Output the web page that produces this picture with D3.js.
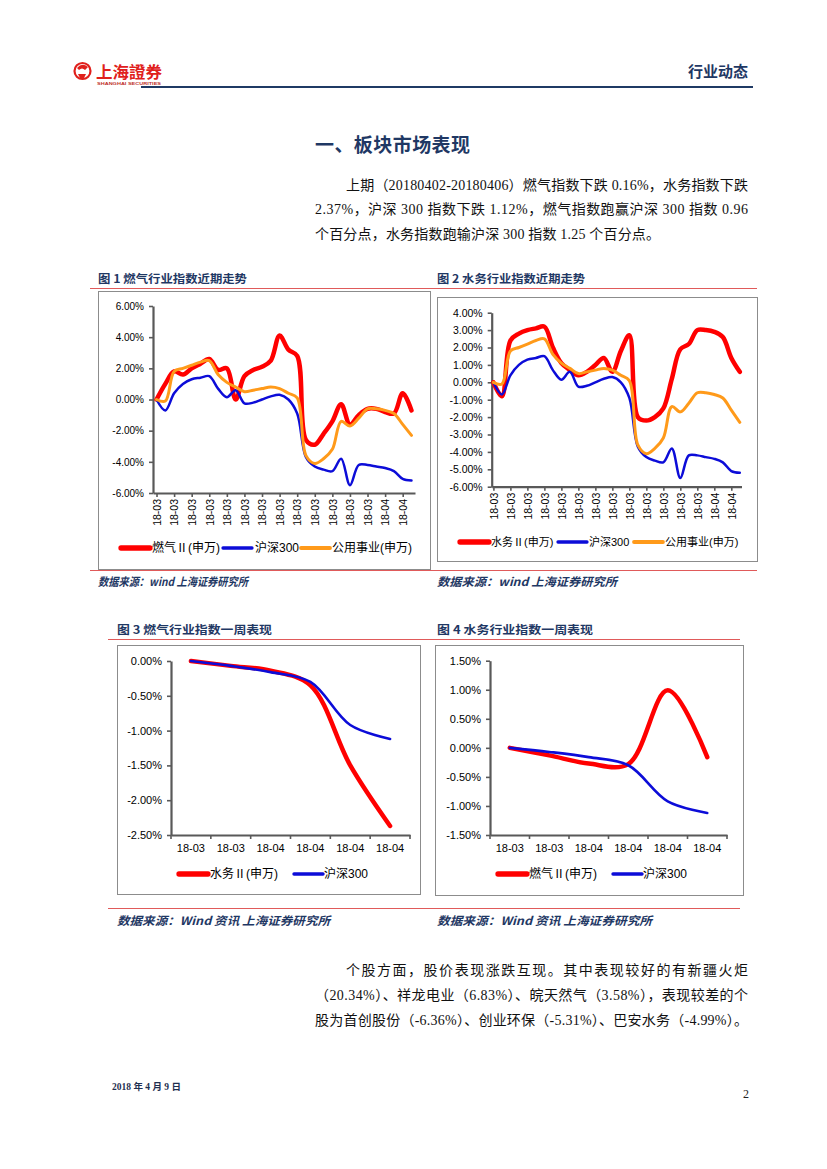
<!DOCTYPE html>
<html><head><meta charset="utf-8">
<script src="https://cdn.jsdelivr.net/npm/d3@7"></script>
<style>body{margin:0;background:#fff} svg{display:block}</style>
</head><body>
<svg id="page" width="827" height="1169"></svg>
<script>
// ---------- DATA ----------
const trendCats = ["18-03","18-03","18-03","18-03","18-03","18-03","18-03","18-03","18-03","18-03",
                   "18-03","18-03","18-03","18-03","18-03","18-03","18-03","18-03","18-03","18-03",
                   "18-03","18-03","18-03","18-03","18-03","18-03","18-04","18-04","18-04","18-04"];
const gasTrend    = [0, 1.0, 1.8, 1.6, 2.0, 2.3, 2.6, 1.9, 2.0, 0.0, 1.5, 1.9, 2.1, 2.5, 4.1, 3.2, 2.8, -2.6, -2.9, -2.2, -1.4, -0.3, -1.6, -1.0, -0.6, -0.6, -0.8, -0.9, 0.4, -0.7];
const waterTrend  = [0, -0.8, 2.4, 2.8, 3.0, 3.1, 3.2, 2.0, 1.1, 0.7, 0.4, 0.6, 1.0, 1.4, 0.6, 1.8, 2.7, -2.0, -2.2, -2.0, -1.5, 0.2, 1.9, 2.2, 3.0, 3.0, 2.9, 2.6, 1.4, 0.6];
const hs300Trend  = [0, -0.7, 0.4, 1.0, 1.3, 1.4, 1.5, 0.7, 0.15, 0.6, -0.25, -0.2, 0.0, 0.2, 0.3, 0.0, -0.9, -3.7, -4.3, -4.5, -4.6, -3.8, -5.5, -4.2, -4.2, -4.3, -4.4, -4.6, -5.1, -5.2];
const utilTrend   = [0, -0.1, 1.8, 2.0, 2.2, 2.4, 2.5, 1.6, 1.1, 0.8, 0.5, 0.6, 0.7, 0.8, 0.7, 0.4, 0.1, -3.6, -4.1, -3.8, -3.2, -1.4, -1.7, -1.2, -0.6, -0.6, -0.7, -0.9, -1.6, -2.3];

const weekCats   = ["18-03","18-03","18-04","18-04","18-04","18-04"];
const waterWeek  = [0, -0.07, -0.14, -0.35, -1.5, -2.37];
const hs300Week  = [0, -0.07, -0.16, -0.3, -0.92, -1.12];
const gasWeek    = [0, -0.13, -0.27, -0.28, 0.99, -0.16];

const ticks1 = [-6, -4, -2, 0, 2, 4, 6];
const ticks2 = [-6, -5, -4, -3, -2, -1, 0, 1, 2, 3, 4];
const ticks3 = [-2.5, -2, -1.5, -1, -0.5, 0];
const ticks4 = [-1.5, -1, -0.5, 0, 0.5, 1, 1.5];

// ---------- STYLE ----------
const NAVY = "#1f3864", RED = "#ff0000", BLUE = "#0c0cd8", ORANGE = "#ff9a1a";
const AX = "#595959";
const SANS = "'Liberation Sans','Noto Sans CJK SC',sans-serif";
const SERIF = "'Liberation Serif','Noto Sans CJK SC',serif";
const CJK = "'Noto Sans CJK SC',sans-serif";
const pct = d => d.toFixed(2) + "%";
const svg = d3.select("#page");

// ---------- HEADER ----------
const logo = svg.append("g");
logo.append("circle").attr("cx", 82.5).attr("cy", 71).attr("r", 8).attr("fill", "none").attr("stroke", "#e0201c").attr("stroke-width", 2.2);
logo.append("path").attr("d", "M77,68 Q82,62 88,67 L85,70 Q82,67 79,70 Z M78,74 L86,74 L84,78 L80,78 Z").attr("fill", "#e0201c");
logo.append("text").attr("x", 96).attr("y", 78).attr("font-family", CJK).attr("font-weight", 700).attr("font-size", 16)
  .attr("fill", "#e0201c").attr("textLength", 66).attr("lengthAdjust", "spacingAndGlyphs").text("上海證券");
logo.append("text").attr("x", 97).attr("y", 85).attr("font-family", SANS).attr("font-weight", 700).attr("font-size", 4.2)
  .attr("fill", "#c0302c").attr("textLength", 64).attr("lengthAdjust", "spacingAndGlyphs").text("SHANGHAI SECURITIES");
svg.append("line").attr("x1", 141).attr("x2", 753).attr("y1", 87).attr("y2", 87).attr("stroke", "#1f3a64").attr("stroke-width", 2.2);
svg.append("text").attr("x", 748).attr("y", 77).attr("text-anchor", "end").attr("font-family", CJK).attr("font-weight", 700)
  .attr("font-size", 15).attr("fill", NAVY).text("行业动态");

// ---------- TEXT BLOCKS ----------
svg.append("text").attr("x", 315).attr("y", 152).attr("font-family", CJK).attr("font-weight", 700).attr("font-size", 19)
  .attr("fill", NAVY).attr("textLength", 155).text("一、板块市场表现");

function para(lines) {
  lines.forEach(l => {
    svg.append("text").attr("x", l[0]).attr("y", l[1]).attr("font-family", SERIF).attr("font-size", 14)
      .attr("fill", "#111").attr("textLength", l[2] - l[0]).attr("lengthAdjust", "spacing").text(l[3]);
  });
}
para([
  [346, 190, 748, "上期（20180402-20180406）燃气指数下跌 0.16%，水务指数下跌"],
  [315, 214, 748, "2.37%，沪深 300 指数下跌 1.12%，燃气指数跑赢沪深 300 指数 0.96"],
  [315, 239, 660, "个百分点，水务指数跑输沪深 300 指数 1.25 个百分点。"],
  [346, 975, 748, "个股方面，股价表现涨跌互现。其中表现较好的有新疆火炬"],
  [315, 1000, 748, "（20.34%）、祥龙电业（6.83%）、皖天然气（3.58%），表现较差的个"],
  [315, 1025, 748, "股为首创股份（-6.36%）、创业环保（-5.31%）、巴安水务（-4.99%）。"]
]);

// captions, rules and sources
function caption(x, y, w, t) {
  svg.append("text").attr("x", x).attr("y", y).attr("font-family", CJK).attr("font-weight", 700).attr("font-size", 11.5)
    .attr("fill", NAVY).attr("textLength", w).attr("lengthAdjust", "spacingAndGlyphs").text(t);
}
function source(x, y, w, t) {
  svg.append("text").attr("x", x).attr("y", y).attr("font-family", CJK).attr("font-weight", 700).attr("font-style", "italic")
    .attr("font-size", 11.5).attr("fill", NAVY).attr("textLength", w).attr("lengthAdjust", "spacingAndGlyphs").text(t);
}
function rule(x1, x2, y) {
  svg.append("line").attr("x1", x1).attr("x2", x2).attr("y1", y).attr("y2", y).attr("stroke", "#e05a5a").attr("stroke-width", 1.2);
}
caption(98, 283, 149, "图 1 燃气行业指数近期走势");
caption(437, 283, 148, "图 2 水务行业指数近期走势");
caption(117, 634, 155, "图 3 燃气行业指数一周表现");
caption(437, 634, 156, "图 4 水务行业指数一周表现");
rule(90, 757, 288.5);
rule(90, 757, 570.5);
rule(108, 740, 639.5);
rule(108, 740, 908.5);
source(98, 586, 150, "数据来源：wind 上海证券研究所");
source(437, 586, 180, "数据来源：wind 上海证券研究所");
source(117, 925, 213, "数据来源：Wind 资讯 上海证券研究所");
source(437, 925, 215, "数据来源：Wind 资讯 上海证券研究所");

// ---------- CHARTS ----------
function lineChart(o) {
  const g = svg.append("g");
  g.append("rect").attr("x", o.box[0]).attr("y", o.box[1]).attr("width", o.box[2]).attr("height", o.box[3])
    .attr("fill", "#fff").attr("stroke", "#8c8c8c").attr("stroke-width", 1);
  const y = d3.scaleLinear().domain(o.yDomain).range([o.yBottom, o.yTop]);
  let x, xOf;
  const idx = d3.range(o.cats.length);
  if (o.band) {
    x = d3.scaleBand().domain(idx).range([o.x0, o.x1]);
    xOf = i => x(i) + x.bandwidth() / 2;
  } else {
    x = d3.scalePoint().domain(idx).range([o.x0, o.x1]).padding(o.pad);
    xOf = i => x(i);
  }
  // y axis
  const ya = g.append("g").attr("transform", `translate(${o.x0},0)`)
    .call(d3.axisLeft(y).tickValues(o.yTicks).tickFormat(pct).tickSize(4).tickSizeOuter(0).tickPadding(5));
  ya.selectAll("text").attr("font-family", SANS).attr("font-size", o.yFont).attr("fill", "#000");
  // x axis
  const xa = g.append("g").attr("transform", `translate(0,${o.yBottom})`);
  if (o.band) {
    xa.call(d3.axisBottom(x).tickFormat(i => o.cats[i]).tickSize(0).tickPadding(9).tickSizeOuter(0));
    xa.selectAll("text").attr("font-family", SANS).attr("font-size", o.xFont).attr("fill", "#000");
    idx.concat([o.cats.length]).forEach(i => {
      const px = i < o.cats.length ? x(i) : x.range()[1];
      xa.append("line").attr("x1", px).attr("x2", px).attr("y1", 0).attr("y2", 4).attr("stroke", AX).attr("stroke-width", 1.6);
    });
  } else {
    xa.call(d3.axisBottom(x).tickValues(idx.filter(i => i % 2 === 0)).tickFormat(i => o.cats[i]).tickSize(4).tickSizeOuter(0));
    xa.selectAll("text").attr("font-family", SANS).attr("font-size", o.xFont).attr("fill", "#000")
      .attr("transform", "rotate(-90)").attr("x", -6).attr("y", 0).attr("dy", "0.36em").style("text-anchor", "end");
  }
  g.selectAll(".domain").attr("stroke", AX).attr("stroke-width", 2.2);
  g.selectAll(".tick line").attr("stroke", AX).attr("stroke-width", 1.6);
  // series
  const line = d3.line().x((d, i) => xOf(i)).y(d => y(d)).curve(d3.curveCatmullRom.alpha(0.5));
  o.series.forEach(s => {
    g.append("path").datum(s.values).attr("d", line).attr("fill", "none").attr("stroke", s.color)
      .attr("stroke-width", s.width).attr("stroke-linejoin", "round").attr("stroke-linecap", "round");
  });
  // legend
  o.series.forEach((s, k) => {
    const [lx, tx] = o.legend[k];
    g.append("line").attr("x1", lx).attr("x2", lx + 29).attr("y1", o.legendY).attr("y2", o.legendY)
      .attr("stroke", s.color).attr("stroke-width", s.width + 0.8).attr("stroke-linecap", "round");
    g.append("text").attr("x", tx).attr("y", o.legendY).attr("dy", "0.36em").attr("font-family", SANS)
      .attr("font-size", o.legendFont).attr("fill", "#000").text(s.name);
  });
}

lineChart({
  box: [98.5, 291.5, 332, 278], cats: trendCats, yDomain: [-6, 6], yTicks: ticks1,
  x0: 153, x1: 415, pad: 0.4, yBottom: 493, yTop: 306, yFont: 10, xFont: 10.5,
  series: [
    { name: "燃气Ⅱ(申万)", values: gasTrend, color: RED, width: 4.5 },
    { name: "沪深300", values: hs300Trend, color: BLUE, width: 2.5 },
    { name: "公用事业(申万)", values: utilTrend, color: ORANGE, width: 3 }
  ],
  legendY: 548, legendFont: 12, legend: [[121, 152], [223, 255], [301, 332]]
});

lineChart({
  box: [437.5, 297.5, 320, 264], cats: trendCats, yDomain: [-6, 4], yTicks: ticks2,
  x0: 491.7, x1: 741.5, pad: 0.2, yBottom: 486.7, yTop: 312.7, yFont: 10.5, xFont: 10.5,
  series: [
    { name: "水务Ⅱ(申万)", values: waterTrend, color: RED, width: 4.5 },
    { name: "沪深300", values: hs300Trend, color: BLUE, width: 2.5 },
    { name: "公用事业(申万)", values: utilTrend, color: ORANGE, width: 3 }
  ],
  legendY: 542, legendFont: 11, legend: [[460, 491], [558, 589], [634, 665]]
});

lineChart({
  box: [117.5, 645.5, 303, 249], cats: weekCats, yDomain: [-2.5, 0], yTicks: ticks3, band: true,
  x0: 171, x1: 410, yBottom: 835, yTop: 661, yFont: 11, xFont: 11,
  series: [
    { name: "水务Ⅱ(申万)", values: waterWeek, color: RED, width: 4.5 },
    { name: "沪深300", values: hs300Week, color: BLUE, width: 2.6 }
  ],
  legendY: 874, legendFont: 12, legend: [[179, 210], [294, 324]]
});

lineChart({
  box: [435.5, 645.5, 308, 250], cats: weekCats, yDomain: [-1.5, 1.5], yTicks: ticks4, band: true,
  x0: 490, x1: 727, yBottom: 835, yTop: 660.7, yFont: 11, xFont: 11,
  series: [
    { name: "燃气Ⅱ(申万)", values: gasWeek, color: RED, width: 4.5 },
    { name: "沪深300", values: hs300Week, color: BLUE, width: 2.6 }
  ],
  legendY: 874, legendFont: 12, legend: [[498, 529], [613, 643]]
});

// ---------- FOOTER ----------
svg.append("text").attr("x", 112).attr("y", 1090).attr("font-family", SERIF).attr("font-weight", 700).attr("font-size", 9.5)
  .attr("fill", "#1f2f50").text("2018 年 4 月 9 日");
svg.append("text").attr("x", 749).attr("y", 1098).attr("text-anchor", "end").attr("font-family", SERIF).attr("font-size", 12)
  .attr("fill", "#222").text("2");
</script>
</body></html>
